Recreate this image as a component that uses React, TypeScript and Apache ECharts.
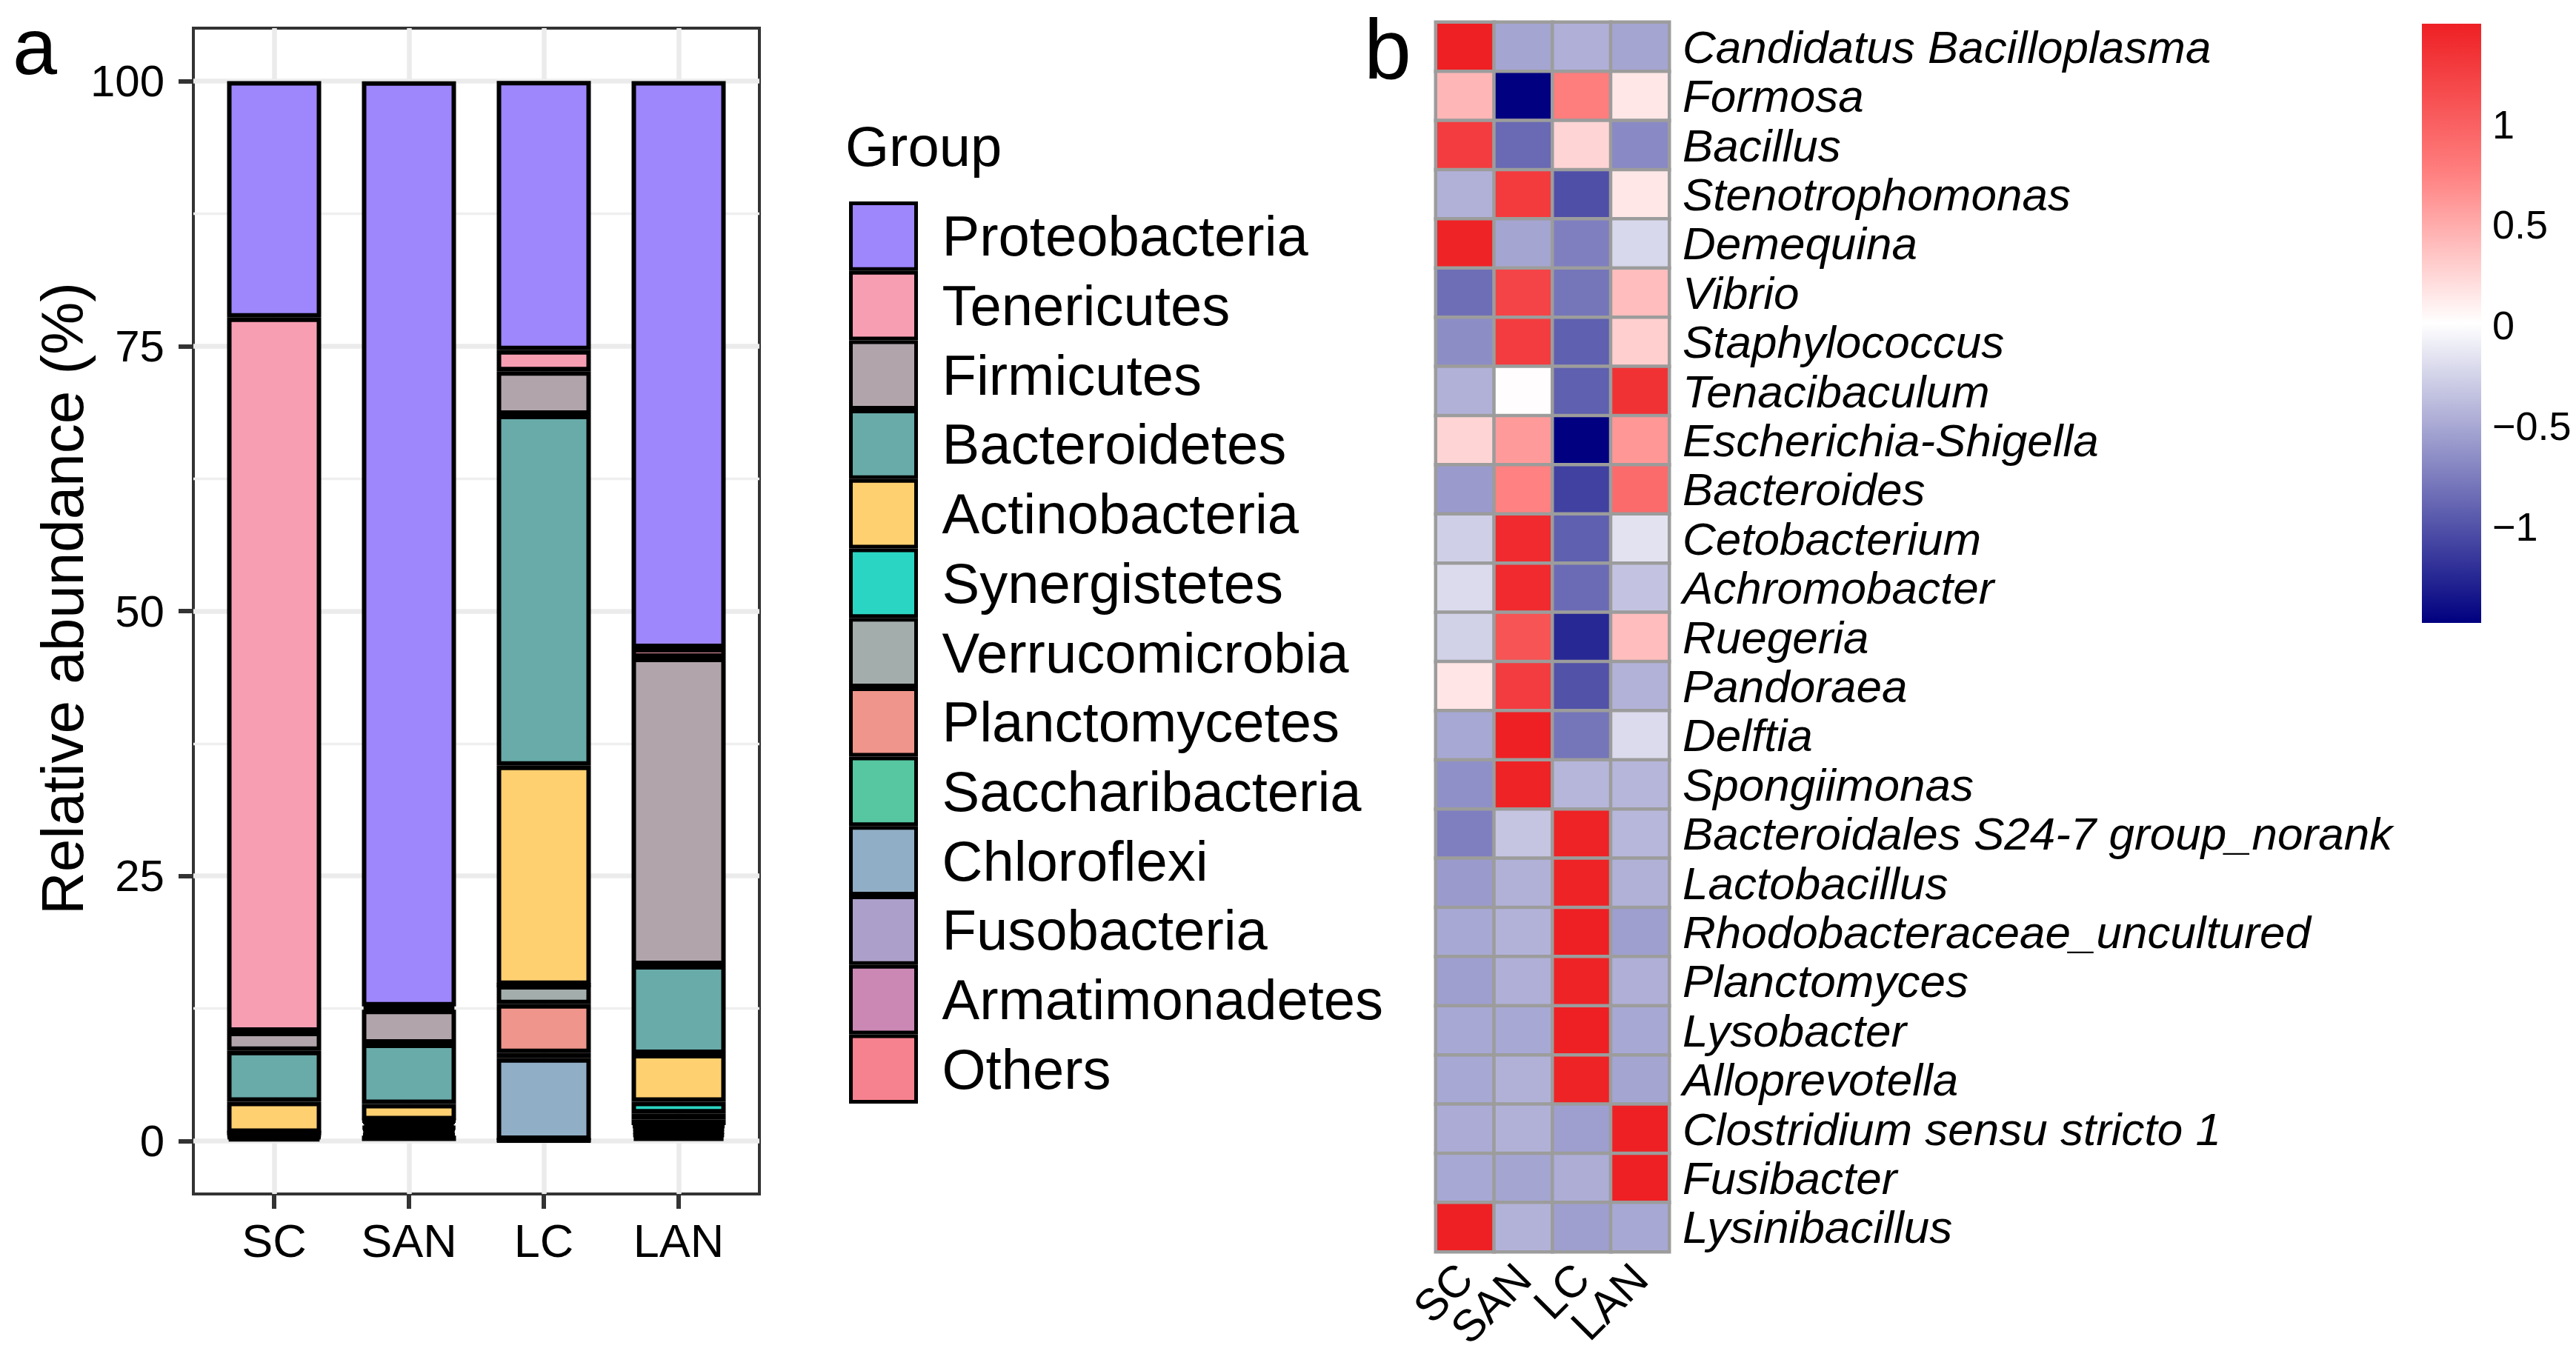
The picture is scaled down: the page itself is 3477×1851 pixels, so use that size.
import React, { useEffect, useRef } from 'react';
import * as echarts from 'echarts';

const FONT = "'Liberation Sans', Arial, Helvetica, sans-serif";

// ---------- Panel a: stacked relative abundance ----------
const groups = ['SC', 'SAN', 'LC', 'LAN'];
const phyla = [
  'Proteobacteria', 'Tenericutes', 'Firmicutes', 'Bacteroidetes', 'Actinobacteria',
  'Synergistetes', 'Verrucomicrobia', 'Planctomycetes', 'Saccharibacteria',
  'Chloroflexi', 'Fusobacteria', 'Armatimonadetes', 'Others',
];
const phylumColors = [
  '#9E86FD', '#F89EB3', '#B1A5AB', '#68ABA9', '#FFD070',
  '#2AD6C3', '#A3ADAC', '#EF958B', '#56C7A0',
  '#90AEC5', '#AC9FCA', '#CB88B4', '#F7828F',
];
const proteobacteria = [22.3, 87.3, 25.4, 53.5];
const tenericutes = [67.4, 0.3, 2.0, 0.9];
const firmicutes = [1.8, 3.2, 4.1, 29.0];
const bacteroidetes = [4.8, 5.7, 33.1, 8.4];
const actinobacteria = [2.93, 1.54, 20.7, 4.5];
const synergistetes = [0.02, 0.05, 0.02, 1.1];
const verrucomicrobia = [0.05, 0.2, 1.8, 0.6];
const planctomycetes = [0.1, 0.4, 4.6, 0.5];
const saccharibacteria = [0.05, 0.1, 0.5, 0.2];
const chloroflexi = [0.05, 0.2, 7.7, 0.3];
const fusobacteria = [0.1, 0.3, 0.03, 0.3];
const armatimonadetes = [0.1, 0.2, 0.02, 0.3];
const others = [0.3, 0.5, 0.05, 0.4];

const yMajorTicks = [0, 25, 50, 75, 100];
const yMinorTicks = [12.5, 37.5, 62.5, 87.5];
const xGridPositions = [1, 2, 3, 4];

// ---------- Panel b: heatmap (row z-scores) ----------
const heatColumns = ['SC', 'SAN', 'LC', 'LAN'];
const genera = [
  'Candidatus Bacilloplasma', 'Formosa', 'Bacillus', 'Stenotrophomonas', 'Demequina',
  'Vibrio', 'Staphylococcus', 'Tenacibaculum', 'Escherichia-Shigella', 'Bacteroides',
  'Cetobacterium', 'Achromobacter', 'Ruegeria', 'Pandoraea', 'Delftia', 'Spongiimonas',
  'Bacteroidales S24-7 group_norank', 'Lactobacillus', 'Rhodobacteraceae_uncultured',
  'Planctomyces', 'Lysobacter', 'Alloprevotella', 'Clostridium sensu stricto 1',
  'Fusibacter', 'Lysinibacillus',
];
const heatSC = [1.5, 0.44, 1.28, -0.45, 1.48, -0.84, -0.66, -0.45, 0.26, -0.58, -0.27, -0.2, -0.26, 0.16, -0.5, -0.64, -0.74, -0.58, -0.5, -0.56, -0.5, -0.5, -0.48, -0.5, 1.5];
const heatSAN = [-0.52, -1.48, -0.87, 1.3, -0.52, 1.22, 1.28, 0.02, 0.6, 0.75, 1.42, 1.42, 1.1, 1.28, 1.5, 1.48, -0.33, -0.45, -0.44, -0.46, -0.5, -0.45, -0.45, -0.52, -0.44];
const heatLC = [-0.46, 0.78, 0.26, -1.02, -0.74, -0.8, -0.92, -0.92, -1.48, -1.1, -0.92, -0.86, -1.25, -1.0, -0.8, -0.42, 1.48, 1.48, 1.5, 1.48, 1.5, 1.48, -0.56, -0.47, -0.56];
const heatLAN = [-0.52, 0.15, -0.68, 0.15, -0.22, 0.4, 0.29, 1.36, 0.62, 0.92, -0.16, -0.34, 0.4, -0.44, -0.2, -0.42, -0.41, -0.45, -0.56, -0.46, -0.5, -0.52, 1.5, 1.5, -0.5];
const heatMin = -1.48;
const heatMax = 1.5;
const heatPalette = ['#000080', '#8080C0', '#FFFFFF', '#FF8080', '#EE2024'];
const colorbarTicks = [-1, -0.5, 0, 0.5, 1];

export default function App() {
  const ref = useRef<HTMLDivElement>(null);

  useEffect(() => {
    if (!ref.current) return;
    const chart = echarts.init(ref.current, null, { renderer: 'svg' });

    const abundance = [
      proteobacteria, tenericutes, firmicutes, bacteroidetes, actinobacteria,
      synergistetes, verrucomicrobia, planctomycetes, saccharibacteria,
      chloroflexi, fusobacteria, armatimonadetes, others,
    ];
    const barSeries: any[] = phyla
      .map((name, i) => ({
        name,
        type: 'bar',
        stack: 'total',
        xAxisIndex: 1,
        yAxisIndex: 2,
        barWidth: 127,
        data: abundance[i],
        itemStyle: { color: phylumColors[i], borderColor: '#000', borderWidth: 6 },
        emphasis: { disabled: true },
        z: 3,
      }))
      .reverse();

    const heatCols = [heatSC, heatSAN, heatLC, heatLAN];
    const heatData: number[][] = [];
    heatCols.forEach((col, ci) => {
      col.forEach((v, ri) => heatData.push([ci, ri, v]));
    });

    const stops = heatPalette.map((c, i) => ({ offset: i / (heatPalette.length - 1), color: c }));

    const textBase = { fontFamily: FONT, fill: '#000' };

    const option: any = {
      animation: false,
      backgroundColor: '#ffffff',
      textStyle: { fontFamily: FONT },
      grid: [
        { left: 261, top: 38, width: 764, height: 1574, show: true, borderColor: '#333333', borderWidth: 4, backgroundColor: 'transparent' },
        { left: 279, top: 38, width: 728, height: 1574 },
        { left: 1938, top: 30, width: 315, height: 1660 },
        { left: 3269, top: 32, width: 80, height: 809, show: true, borderWidth: 0,
          backgroundColor: new echarts.graphic.LinearGradient(0, 1, 0, 0, stops) },
      ],
      xAxis: [
        {
          gridIndex: 0, type: 'value', min: 0.4, max: 4.6,
          axisLine: { show: false, onZero: false },
          axisLabel: { show: false },
          axisTick: { show: false, customValues: xGridPositions },
          splitLine: { show: true, lineStyle: { color: '#EBEBEB', width: 6.5 } },
        },
        {
          gridIndex: 1, type: 'category', data: groups,
          axisLine: { show: false, onZero: false },
          axisTick: { show: true, alignWithLabel: true, length: 20, lineStyle: { color: '#333333', width: 6 } },
          axisLabel: { fontSize: 63, color: '#000', margin: 31, fontFamily: FONT },
          splitLine: { show: false },
        },
        {
          gridIndex: 2, type: 'category', data: heatColumns,
          axisLine: { show: false, onZero: false },
          axisTick: { show: false },
          axisLabel: { rotate: 45, fontSize: 60, color: '#000', margin: 26, interval: 0, fontFamily: FONT },
          splitLine: { show: false },
        },
        { gridIndex: 3, type: 'value', show: false, min: 0, max: 1 },
      ],
      yAxis: [
        {
          gridIndex: 0, type: 'value', min: -5, max: 105,
          axisLine: { show: false, onZero: false },
          axisTick: { show: true, length: 20, customValues: yMajorTicks, lineStyle: { color: '#333333', width: 6 } },
          axisLabel: { customValues: yMajorTicks, fontSize: 60, color: '#000', margin: 39, fontFamily: FONT },
          splitLine: { show: true, lineStyle: { color: '#EBEBEB', width: 6.5 } },
        },
        {
          gridIndex: 0, type: 'value', min: -5, max: 105,
          axisLine: { show: false, onZero: false },
          axisTick: { show: false, customValues: yMinorTicks },
          axisLabel: { show: false },
          splitLine: { show: true, lineStyle: { color: '#EFEFEF', width: 3.3 } },
        },
        { gridIndex: 1, type: 'value', min: -5, max: 105, show: false },
        {
          gridIndex: 2, type: 'category', data: genera, inverse: true, position: 'right',
          axisLine: { show: false, onZero: false },
          axisTick: { show: false },
          axisLabel: { fontSize: 62, fontStyle: 'italic', color: '#000', margin: 18, interval: 0, fontFamily: FONT },
          splitLine: { show: false },
        },
        {
          gridIndex: 3, type: 'value', min: heatMin, max: heatMax, position: 'right',
          axisLine: { show: false, onZero: false },
          axisTick: { show: false },
          splitLine: { show: false },
          axisLabel: {
            customValues: colorbarTicks, fontSize: 54, color: '#000', margin: 15, fontFamily: FONT,
            formatter: (v: number) => String(v).replace('-', '\u2212'),
          },
        },
      ],
      visualMap: {
        type: 'continuous', show: false, seriesIndex: phyla.length,
        min: heatMin, max: heatMax, inRange: { color: heatPalette },
      },
      legend: {
        data: phyla,
        orient: 'vertical',
        left: 1141,
        top: 267,
        itemWidth: 88,
        itemHeight: 88.7,
        itemGap: 0,
        icon: 'rect',
        selectedMode: false,
        itemStyle: { borderColor: '#000', borderWidth: 5 },
        textStyle: { fontSize: 76, color: '#000', fontFamily: FONT, padding: [0, 0, 0, 30] },
      },
      graphic: [
        { type: 'text', x: 17, y: 62, style: { ...textBase, text: 'a', fontSize: 108, textAlign: 'left', textVerticalAlign: 'middle', align: 'left', verticalAlign: 'middle' } },
        { type: 'text', x: 1841, y: 66, style: { ...textBase, text: 'b', fontSize: 115, textAlign: 'left', textVerticalAlign: 'middle', align: 'left', verticalAlign: 'middle' } },
        { type: 'text', x: 1141, y: 197, style: { ...textBase, text: 'Group', fontSize: 76, textAlign: 'left', textVerticalAlign: 'middle', align: 'left', verticalAlign: 'middle' } },
        { type: 'text', x: 84, y: 808, rotation: Math.PI / 2, style: { ...textBase, text: 'Relative abundance (%)', fontSize: 80, textAlign: 'center', textVerticalAlign: 'middle', align: 'center', verticalAlign: 'middle' } },
      ],
      series: [
        ...barSeries,
        {
          type: 'heatmap',
          xAxisIndex: 2,
          yAxisIndex: 3,
          data: heatData,
          itemStyle: { borderColor: '#9C9C9C', borderWidth: 4.5 },
          emphasis: { disabled: true },
        },
      ],
    };

    chart.setOption(option);
    return () => chart.dispose();
  }, []);

  return (
    <div
      ref={ref}
      style={{ position: 'absolute', left: 0, top: 0, width: 3477, height: 1851, background: '#fff' }}
    />
  );
}
